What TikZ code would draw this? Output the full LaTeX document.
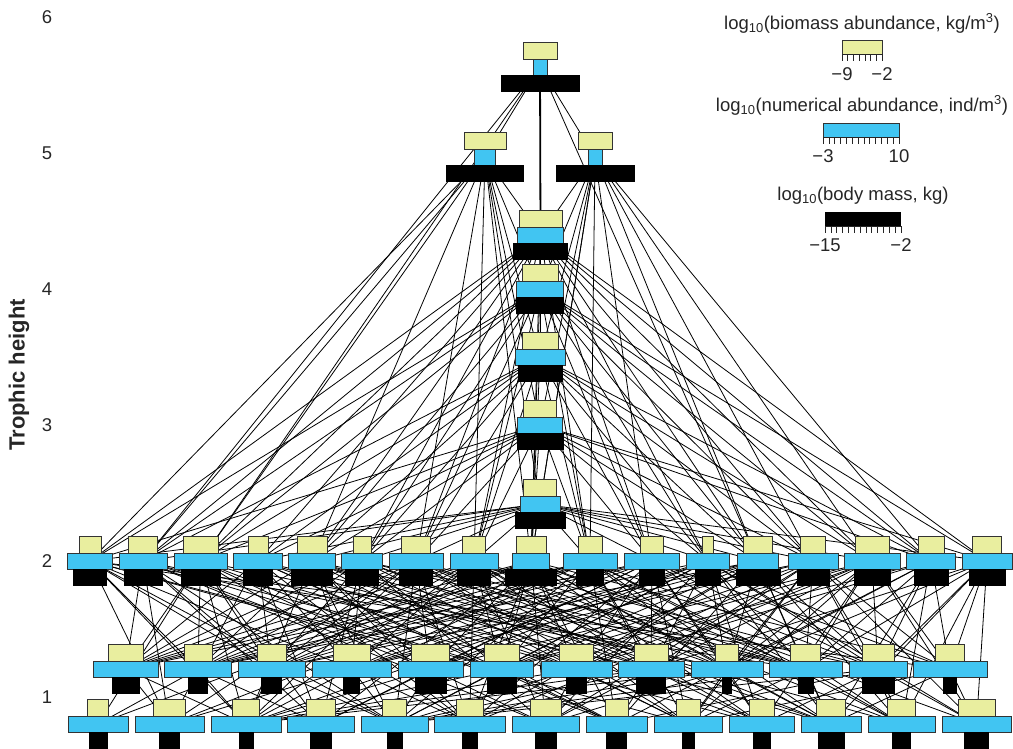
\documentclass[tikz,border=0pt]{standalone}
\usepackage{fontspec}
\setmainfont{Liberation Sans}
\definecolor{yel}{HTML}{E9EE9F}
\definecolor{blu}{HTML}{41C5F2}
\tikzset{
  edge/.style={line width=0.8pt, black},
  heavyedge/.style={line width=1.8pt, black},
  ybox/.style={draw=black!80, line width=0.8pt, fill=yel},
  bbox/.style={draw=black!80, line width=0.8pt, fill=blu},
  kbox/.style={fill=black},
  lab/.style={font=\fontsize{18.5}{22}\selectfont, text=black!85, inner sep=0pt},
  tick/.style={line width=0.7pt, black!85},
}
\begin{document}
\begin{tikzpicture}[x=1pt,y=-1pt]
\useasboundingbox (0,0) rectangle (1013,748);
\clip (0,0) rectangle (1013,748);
% name / x / y / yellow width / blue width / black width
\def\fwdata{T/540/67/34/14/79, F1/485/157/42/21/78, F2/595/157/34/14/79,
A/540.5/235/43/46/55, B/540/289/36/47/48, C/540/357/36/50/45, D/540/425/33/45/47, E/540/504/33/40/51,
N1/90/561/22/45/34, N2/143/561/29/48/39, N3/200.5/561/35/53/40, N4/258/561/20/49/30,
N5/312/561/30/47/42, N6/362/561/18/41/34, N7/416/561/29/54/34, N8/474/561/23/48/34,
N9/531/561/30/37/52, N10/590/561/24/54/28, N11/652/561/23/55/26, N12/708/561/11/43/26,
N13/758/561/29/41/45, N14/813/561/25/50/33, N15/872/561/34/56/37, N16/931/561/26/49/35,
N17/987/561/29/50/37,
M1/125.5/669/35/65/28, M2/198/669/28/67/20, M3/271.5/669/29/67/21, M4/351.5/669/37/79/17,
M5/430.5/669/38/65/32, M6/501.5/669/35/63/30, M7/576.5/669/34/71/21, M8/651/669/34/66/30,
M9/727/669/23/72/10, M10/805.5/669/30/73/16, M11/878/669/32/58/33, M12/950/669/29/74/14,
L1/98/724/21/60/19, L2/169.5/724/32/69/21, L3/246/724/27/70/15, L4/320.5/724/29/67/22,
L5/394.5/724/24/67/16, L6/469.5/724/27/71/16, L7/545.5/724/31/67/22, L8/616.5/724/23/61/21,
L9/688/724/24/68/13, L10/761.5/724/25/65/18, L11/831/724/29/60/27, L12/901.5/724/28/67/19,
L13/976.5/724/37/69/25}
\foreach \n/\x/\y/\a/\b/\c in \fwdata {\coordinate (\n) at (\x,\y);}
% links (predator / prey list)
\foreach \u/\vs in {
 T/{F1,F2,B,C,N2,N3,N13},
 F1/{A,B,C,D,E,N1,N2,N3,N5,N7,N8,N9},
 F2/{A,B,C,D,E,N9,N10,N11,N13,N14,N15,N16},
 A/{B,N1,N2,N3,N4,N5,N6,N7,N8,N9,N10,N11,N12,N13,N14,N15,N16,N17},
 B/{N1,N2,N3,N5,N6,N7,N8,N9,N10,N11,N12,N13,N14,N15,N16,N17},
 C/{N2,N3,N4,N5,N6,N7,N8,N9,N10,N11,N12,N13,N14,N15,N16},
 D/{N1,N3,N4,N5,N6,N7,N8,N9,N10,N11,N12,N13,N14,N16,N17},
 E/{N1,N2,N4,N5,N6,N7,N8,N9,N10,N11,N12,N13,N14,N15,N17},
 N1/{M2,M3,M4,M6,L2,L3,L5,M10,M12,L9},
 N2/{M1,M3,M5,M8,L2,L4,L5,M6,L7,L10},
 N3/{M1,M2,M3,M5,M7,L1,L3,L4,L6,L8,M9},
 N4/{M1,M3,M4,M6,M9,L2,L4,L6,L8,L11,M7},
 N5/{M1,M2,M4,M5,M7,M10,L3,L5,L6,L8,L12,M8,L10},
 N6/{M1,M2,M3,M4,M6,M8,M11,L4,L7,L9,M10,L11},
 N7/{M1,M2,M3,M5,M7,M8,M10,L2,L3,L5,L6,L11,M9,L9},
 N8/{M1,M2,M3,M4,M6,M8,M9,M10,L3,L6,L7,L9,L10,M11,L12},
 N9/{M1,M2,M3,M5,M6,M7,M9,M10,L4,L6,L7,L8,L10,L11,M12,L13,L1},
 N10/{M1,M2,M3,M4,M6,M8,M9,M10,M11,L5,L8,L9,L11,L12,L2},
 N11/{M2,M3,M4,M5,M7,M8,M9,M11,M12,L4,L6,L9,L10,L12,M1},
 N12/{M2,M4,M5,M6,M8,M9,M10,M11,M12,L5,L7,L10,L11,L13,L3},
 N13/{M2,M3,M4,M5,M6,M7,M9,M10,M11,L6,L8,L11,L12},
 N14/{M3,M4,M6,M7,M8,M9,M10,M11,M12,L7,L9,L12,L13},
 N15/{M5,M6,M7,M8,M9,M10,M11,M12,L6,L9,L10,L13},
 N16/{M6,M7,M9,M10,M11,M12,L8,L11,L12},
 N17/{M8,M9,M10,M11,M12,L11,L12,L13},
 M1/{L2,L3},
 M2/{L1,L3,L4},
 M3/{L3,L5},
 M4/{L2,L3,L5,L6},
 M5/{L3,L4,L5,L7},
 M6/{L3,L5,L6,L8},
 M7/{L3,L5,L7,L9},
 M8/{L3,L5,L7,L8,L10},
 M9/{L3,L5,L7,L9,L10,L11},
 M10/{L5,L9,L11,L12},
 M11/{L5,L8,L10,L12,L13},
 M12/{L9,L11,L13}}
 {\foreach \v in \vs {\draw[edge] (\u) -- (\v);}}
\draw[heavyedge] (T) -- (A);
% boxes
\foreach \n/\x/\y/\a/\b/\c in \fwdata {
  \draw[ybox] ({\x-\a/2},{\y-24.5}) rectangle ({\x+\a/2},{\y-8});
  \draw[bbox] ({\x-\b/2},{\y-8}) rectangle ({\x+\b/2},{\y+8});
  \fill[kbox] ({\x-\c/2},{\y+8}) rectangle ({\x+\c/2},{\y+24.5});
}
% axis
\foreach \k/\yy in {1/697,2/561,3/425,4/289,5/153,6/17}
  \node[lab] (ax\k) at (47,\yy) {\k};
\node[lab, font=\fontsize{22}{26}\selectfont\bfseries, rotate=90] (ytitle) at (19,375) {Trophic height};
% legend
\node[lab, anchor=base] (lg1) at (862,29) {log\textsubscript{10}(biomass abundance, kg/m\textsuperscript{3})};
\draw[ybox] (842,40) rectangle (882,54);
\draw[tick] (842,54) -- (882,54);
\foreach \i in {0,...,7} \draw[tick] ({842+\i*40/7},54) -- ++(0,7);
\node[lab, anchor=base] (lg1a) at (842,80) {−9};
\node[lab, anchor=base] (lg1b) at (882,80) {−2};
\node[lab, anchor=base] (lg2) at (862,111) {log\textsubscript{10}(numerical abundance, ind/m\textsuperscript{3})};
\draw[bbox] (823,123) rectangle (899,137);
\draw[tick] (823,137) -- (899,137);
\foreach \i in {0,...,13} \draw[tick] ({823+\i*76/13},137) -- ++(0,7);
\node[lab, anchor=base] (lg2a) at (823,162) {−3};
\node[lab, anchor=base] (lg2b) at (899,162) {10};
\node[lab, anchor=base] (lg3) at (863,200) {log\textsubscript{10}(body mass, kg)};
\fill[kbox] (825,212) rectangle (901,226);
\draw[tick] (825,226) -- (901,226);
\foreach \i in {0,...,13} \draw[tick] ({825+\i*76/13},226) -- ++(0,7);
\node[lab, anchor=base] (lg3a) at (825,251) {−15};
\node[lab, anchor=base] (lg3b) at (901,251) {−2};
\end{tikzpicture}
\end{document}
